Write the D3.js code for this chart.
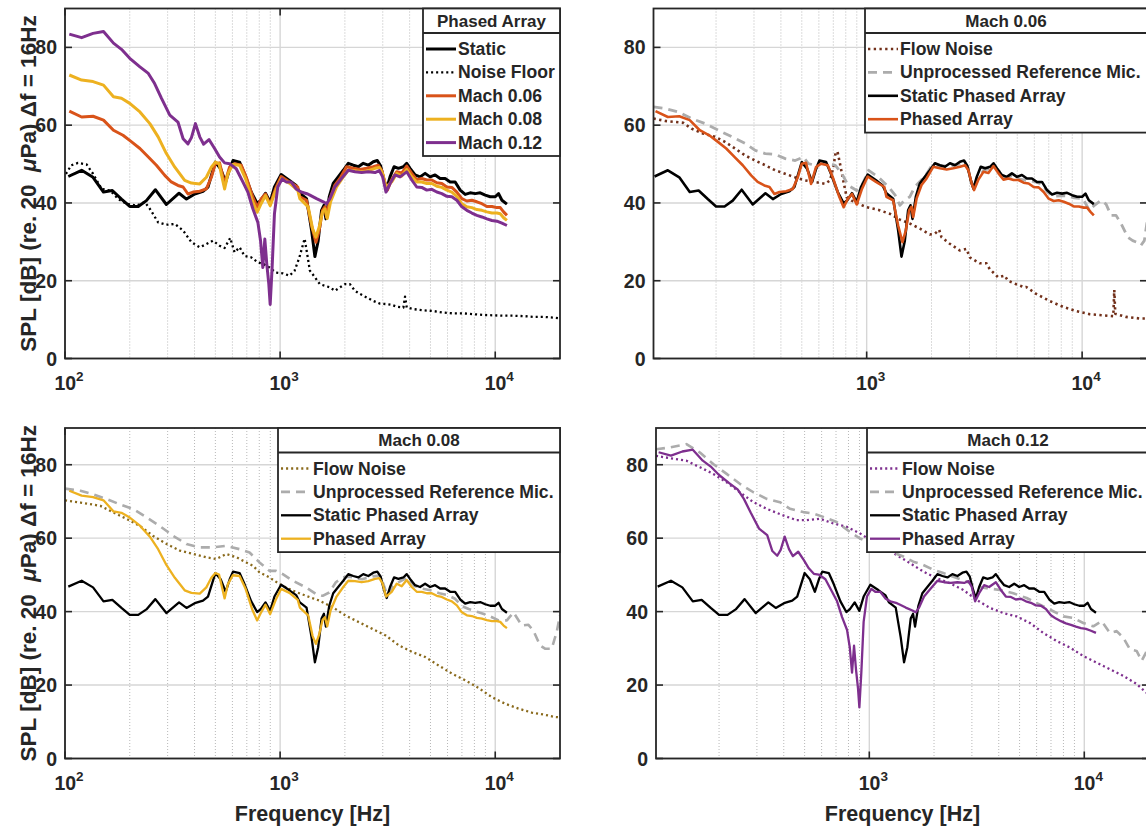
<!DOCTYPE html>
<html>
<head>
<meta charset="utf-8">
<script src="https://cdn.jsdelivr.net/npm/d3@7"></script>
<style>
  body { margin: 0; background: #fff; }
  text { font-family: "Liberation Sans", Arial, sans-serif; font-weight: bold; fill: #262626; }
</style>
</head>
<body>
<svg id="fig" width="1146" height="829"></svg>
<script>
// ---------------- data: [frequency Hz, SPL dB] ----------------
const staticArray = [[103.6,46.8],[119.5,48.4],[135,46.6],[151,42.8],[166,43.2],[183,41.0],[200,39.1],[219,39.1],[239,40.6],[263,43.4],[296,39.6],[339,42.5],[367,41.0],[401,42.3],[438,43.0],[462,44.1],[500,50.5],[529,48.8],[558,45.4],[583,48.8],[604,50.9],[648,50.5],[683,47.5],[734,42.8],[782,39.9],[811,40.6],[855,42.5],[899,40.2],[941,44.1],[1011,47.3],[1105,45.8],[1187,44.5],[1235,42.5],[1327,41.1],[1400,33.0],[1451,26.2],[1503,30.3],[1558,38.1],[1598,39.4],[1632,35.9],[1692,41.6],[1765,45.0],[1862,46.7],[1966,48.4],[2074,50.2],[2188,49.7],[2309,49.3],[2435,50.2],[2570,49.7],[2711,50.6],[2830,50.9],[2934,49.5],[3040,45.9],[3130,43.7],[3243,46.7],[3385,49.3],[3546,48.9],[3741,49.3],[3877,50.2],[4018,48.9],[4240,47.2],[4472,46.7],[4720,47.6],[4980,46.7],[5254,47.2],[5543,46.3],[5850,46.3],[6171,45.4],[6512,45.4],[6871,43.3],[7249,42.2],[7647,42.6],[8069,42.4],[8513,42.6],[8983,42.0],[9478,41.6],[10000,41.6],[10363,42.4],[10741,40.7],[11333,39.7]];

const noiseFloor = [[101,47.5],[107,49.7],[115,50.3],[126,49.9],[135,47.5],[148,43.6],[162,43.2],[177,41.0],[193,39.8],[215,39.3],[235,40.2],[248,38.5],[271,35.0],[296,34.4],[324,34.6],[354,32.9],[387,29.9],[423,28.6],[454,29.4],[487,30.3],[523,29.0],[552,28.4],[586,31.0],[614,27.3],[648,28.6],[683,26.4],[734,26.0],[788,24.7],[837,24.3],[892,23.4],[958,22.1],[1029,21.9],[1105,21.3],[1166,22.5],[1229,26.0],[1300,30.8],[1336,26.9],[1375,22.6],[1451,20.9],[1530,19.1],[1615,18.7],[1704,18.3],[1797,17.4],[1897,18.3],[2001,19.1],[2112,19.1],[2228,17.4],[2350,16.6],[2524,15.7],[2711,14.8],[2913,14.1],[3130,14.0],[3301,13.8],[3483,13.3],[3741,13.1],[3808,15.9],[3877,13.1],[4165,12.7],[4636,12.4],[5161,12.2],[5745,11.8],[6397,11.6],[7120,11.6],[7926,11.4],[8825,11.2],[9823,11.1],[10934,11.0],[12172,11.0],[13552,10.9],[15085,10.7],[16797,10.7],[18698,10.5],[20000,10.3]];

const mach006Array = [[104.7,63.6],[119.5,62.1],[135,62.3],[151,61.3],[168,58.7],[186,57.4],[204,55.7],[223,54.0],[244,51.8],[266,49.7],[291,47.1],[312,45.4],[335,44.5],[354,44.1],[373,42.3],[394,42.8],[423,43.0],[454,43.6],[479,46.6],[500,50.1],[523,50.3],[552,44.9],[582,49.2],[614,50.1],[660,49.7],[696,46.6],[747,41.5],[782,38.9],[816,41.0],[855,42.3],[899,39.6],[951,43.6],[1011,46.8],[1105,45.4],[1208,44.1],[1235,41.6],[1327,40.7],[1400,34.2],[1466,29.9],[1519,32.9],[1575,38.1],[1615,39.0],[1644,36.4],[1704,41.1],[1797,44.6],[1897,46.3],[2037,49.3],[2188,48.9],[2350,48.6],[2524,48.9],[2711,49.3],[2861,49.7],[2966,48.4],[3073,45.0],[3152,43.3],[3301,46.0],[3483,48.0],[3674,47.7],[3877,49.5],[4091,47.6],[4316,46.0],[4554,46.3],[4806,45.9],[5070,45.9],[5350,45.2],[5644,45.0],[5955,44.1],[6283,44.0],[6630,42.8],[6995,41.1],[7380,40.5],[7786,40.7],[8215,40.3],[8667,39.8],[9145,39.1],[9649,39.1],[10180,38.8],[10551,38.8],[10934,37.7],[11333,36.8]];

const mach008Array = [[104.7,72.9],[119.5,71.6],[135,71.2],[151,70.3],[168,67.3],[183,66.9],[200,65.6],[223,63.4],[248,60.4],[271,57.0],[296,52.7],[324,49.2],[360,45.8],[387,45.1],[423,44.9],[454,46.6],[479,49.2],[500,50.5],[520,50.1],[552,43.6],[572,47.5],[603,49.9],[648,49.7],[691,46.2],[742,40.6],[782,37.6],[816,39.8],[855,41.9],[899,39.3],[951,43.0],[1011,46.2],[1105,45.1],[1208,43.2],[1235,41.1],[1350,39.0],[1415,33.4],[1466,31.2],[1519,33.8],[1575,37.7],[1615,38.5],[1656,36.0],[1716,40.3],[1829,44.1],[1966,46.7],[2074,48.4],[2228,48.3],[2393,48.0],[2570,48.3],[2761,48.9],[2892,49.1],[2997,47.6],[3106,44.1],[3301,45.4],[3483,47.6],[3674,46.9],[3877,48.6],[4091,46.7],[4316,45.4],[4554,45.4],[4806,45.0],[5070,45.0],[5350,44.3],[5644,44.0],[5955,43.3],[6283,42.8],[6630,41.7],[6995,39.8],[7380,39.0],[7786,38.8],[8215,38.3],[8667,38.1],[9145,37.7],[9649,37.4],[10180,37.4],[10551,37.2],[10934,36.2],[11333,35.5]];

const mach012Array = [[104.7,83.4],[119.5,82.5],[135,83.6],[151,84.1],[168,81.1],[183,79.5],[200,77.2],[223,75.0],[244,73.3],[261,70.7],[281,66.9],[307,62.6],[335,60.8],[354,56.5],[373,55.2],[387,56.8],[404,60.4],[423,57.0],[441,55.1],[467,56.3],[496,54.0],[523,51.8],[552,50.3],[582,50.1],[625,48.8],[671,45.4],[708,42.8],[747,38.5],[788,35.0],[811,30.3],[831,23.4],[849,30.7],[867,24.3],[886,19.1],[899,13.9],[918,23.4],[941,37.2],[975,44.1],[1022,46.2],[1066,45.4],[1125,45.4],[1187,43.6],[1252,42.8],[1344,42.3],[1375,42.0],[1477,41.1],[1587,40.3],[1644,39.8],[1704,41.1],[1797,44.1],[1931,46.3],[2074,48.4],[2228,48.0],[2393,47.8],[2570,48.0],[2761,47.8],[2892,48.3],[2997,46.7],[3106,42.8],[3243,45.0],[3421,47.2],[3609,46.7],[3877,48.0],[4091,45.9],[4316,44.1],[4554,44.0],[4806,43.3],[5070,43.5],[5350,42.8],[5644,42.4],[5955,41.7],[6283,41.6],[6630,40.7],[6995,39.0],[7380,38.1],[7786,37.4],[8215,36.8],[8667,36.4],[9145,35.9],[9649,35.5],[10180,35.3],[10741,34.8],[11333,34.2]];

const flowNoise006 = [[102.5,61.7],[116,61.1],[141,60.6],[154,59.1],[175,57.8],[198,57.0],[220,55.7],[245,54.0],[273,52.2],[304,50.9],[338,49.7],[376,48.4],[418,47.5],[465,46.6],[518,45.8],[576,45.4],[641,44.9],[676,45.8],[701,49.2],[718,53.1],[733,53.1],[752,50.1],[781,45.4],[808,41.5],[852,40.6],[915,39.8],[1000,38.9],[1136,38.2],[1282,37.2],[1427,35.7],[1587,34.7],[1766,33.4],[1964,31.9],[2072,32.1],[2170,33.1],[2224,31.2],[2431,29.5],[2704,27.8],[2904,28.2],[3010,26.0],[3346,24.5],[3593,24.5],[3724,23.0],[4071,20.9],[4370,21.3],[4528,20.0],[4948,19.1],[5408,18.3],[5504,18.4],[6124,16.6],[7060,14.8],[8137,13.3],[9380,12.2],[10812,11.4],[12467,11.1],[13950,10.9],[14100,17.6],[14250,11.5],[15986,10.7],[18427,10.3],[20000,10.3]];

const refMic006 = [[102.5,64.7],[116,64.3],[134,63.4],[154,61.7],[178,60.4],[205,58.7],[237,57.0],[273,55.3],[304,53.5],[338,52.7],[376,52.5],[419,51.4],[466,50.9],[509,51.8],[536,50.1],[576,49.7],[641,50.5],[714,49.7],[768,47.5],[822,44.5],[899,43.2],[949,44.5],[1021,48.4],[1136,46.6],[1264,44.1],[1356,42.0],[1427,39.4],[1500,40.7],[1587,41.6],[1670,44.1],[1766,45.5],[1900,47.5],[2000,49.5],[2200,49.5],[2450,49.5],[2700,50.0],[2850,50.3],[2950,49.0],[3050,45.5],[3150,43.5],[3300,46.5],[3500,48.5],[3750,48.8],[3900,49.7],[4100,48.3],[4400,46.5],[4750,47.0],[5100,46.2],[5500,45.8],[6000,45.5],[6500,44.8],[6900,42.8],[7400,41.7],[8000,41.8],[8600,41.8],[9200,41.3],[10071,41.1],[10812,38.1],[11405,39.4],[12243,40.7],[12913,39.7],[13620,36.8],[14368,36.8],[15155,34.7],[16272,31.2],[17165,30.3],[17911,29.9],[18757,29.1],[19437,30.3],[20000,35.0]];

const flowNoise008 = [[100,70.3],[118,69.7],[146,68.8],[168,67.0],[194,65.2],[223,63.3],[257,60.6],[297,58.4],[342,56.6],[394,55.7],[454,54.8],[505,54.3],[562,55.7],[626,54.8],[696,53.4],[747,52.5],[802,50.7],[892,49.3],[993,47.5],[1145,45.7],[1319,44.3],[1521,43.0],[1753,41.2],[2020,38.9],[2329,37.1],[2685,35.3],[3096,33.5],[3568,30.8],[4113,29.0],[4741,27.6],[5466,25.3],[6300,23.1],[7262,21.3],[8371,19.2],[9649,16.7],[11122,14.9],[12823,13.6],[14785,12.5],[17037,11.9],[18960,11.3],[20000,11.2]];

const refMic008 = [[100,73.5],[118,72.9],[136,71.9],[157,70.6],[180,69.2],[208,67.9],[240,65.6],[276,63.3],[319,60.6],[367,58.4],[423,57.5],[488,57.5],[562,57.9],[648,57.0],[721,56.1],[802,53.4],[892,51.1],[958,51.1],[1029,50.2],[1145,48.4],[1319,46.6],[1469,44.8],[1576,44.3],[1692,45.2],[1816,48.0],[1950,49.3],[2100,49.5],[2400,48.8],[2700,49.6],[2900,49.8],[3000,48.0],[3150,44.5],[3350,47.0],[3600,48.2],[3900,49.2],[4200,47.0],[4600,46.2],[5000,45.8],[5500,45.0],[6000,44.5],[6500,43.5],[7000,41.5],[7525,40.7],[8371,39.8],[9314,38.9],[10361,37.6],[11325,37.6],[12161,39.8],[13292,36.2],[14269,36.4],[15047,34.8],[16160,30.8],[17037,29.9],[18295,29.9],[19298,34.4],[20000,39.0]];

const flowNoise012 = [[101.8,82.4],[118,81.8],[141,81.1],[163,79.3],[188,77.5],[217,75.2],[250,72.5],[289,69.8],[333,68.0],[398,66.2],[459,64.9],[511,64.9],[590,65.3],[680,64.0],[785,63.1],[905,61.3],[1007,59.5],[1162,57.7],[1340,55.4],[1546,53.2],[1783,50.9],[2057,49.1],[2373,47.7],[2737,45.9],[3157,43.2],[3642,41.0],[4201,39.6],[4846,38.7],[5590,36.9],[6448,34.2],[7437,32.0],[8578,30.2],[9893,27.9],[11414,26.1],[13165,24.3],[15186,22.5],[17516,20.3],[19362,18.0],[20000,17.4]];

const refMic012 = [[101.8,84.2],[118,84.7],[141,85.6],[163,83.3],[188,80.2],[217,77.5],[250,74.8],[289,72.5],[333,70.7],[384,69.8],[428,68.0],[493,67.1],[549,66.7],[611,65.8],[705,64.4],[813,61.7],[905,59.9],[1007,58.8],[1162,57.3],[1300,56.0],[1439,55.0],[1602,53.6],[1783,52.7],[1985,51.4],[2209,50.5],[2459,49.5],[2836,48.2],[3157,46.8],[3513,46.4],[4053,45.9],[4676,45.0],[5394,43.7],[6221,41.9],[7176,40.1],[7985,38.7],[8888,38.3],[9893,36.9],[11013,36.0],[12040,37.4],[13165,34.2],[14140,34.7],[15186,32.9],[16310,29.7],[17516,29.3],[18480,26.6],[19362,28.8],[20000,33.0]];

// ---------------- axis ticks ----------------
const yTicks = [0, 20, 40, 60, 80];
const xDecades = [100, 1000, 10000];
const xMinor = [200,300,400,500,600,700,800,900,2000,3000,4000,5000,6000,7000,8000,9000];

// ---------------- line styles ----------------
const C = {
  black: "#000000", orange: "#D95319", yellow: "#EDB120", purple: "#7E2F8E",
  brown: "#72301a", gold: "#8a6a1c", gray: "#acacac", axis: "#262626"
};
const solid = (color, w) => ({ color, width: w, dash: null });
const dotted = (color, w) => ({ color, width: w, dash: `${w*0.9},${w*1.3}` });
const dashed = (color, w) => ({ color, width: w, dash: "9,6" });

const panels = [
  { x0: 65, x1: 560, y0: 8.5, y1: 358.5, xDomain: [100, 20000], yLabel: true, xLabel: false,
    title: "Phased Array", legend: { x: 423, y: 8.5, w: 137, rows: 5 },
    series: [
      { name: "Static", data: staticArray, style: solid(C.black, 3.0) },
      { name: "Noise Floor", data: noiseFloor, style: dotted(C.black, 2.3) },
      { name: "Mach 0.06", data: mach006Array, style: solid(C.orange, 3.0) },
      { name: "Mach 0.08", data: mach008Array, style: solid(C.yellow, 3.0) },
      { name: "Mach 0.12", data: mach012Array, style: solid(C.purple, 3.0) }
    ] },
  { x0: 653.5, x1: 1147, y0: 8.5, y1: 358.5, xDomain: [102.5, 20000], yLabel: false, xLabel: false,
    title: "Mach 0.06", legend: { x: 865, y: 8.5, w: 282, rows: 4 },
    series: [
      { name: "Flow Noise", data: flowNoise006, style: dotted(C.brown, 2.6) },
      { name: "Unprocessed Reference Mic.", data: refMic006, style: dashed(C.gray, 2.8) },
      { name: "Static Phased Array", data: staticArray, style: solid(C.black, 2.6) },
      { name: "Phased Array", data: mach006Array, style: solid(C.orange, 2.6) }
    ] },
  { x0: 65, x1: 560, y0: 428, y1: 758.5, xDomain: [100, 20000], yLabel: true, xLabel: true,
    title: "Mach 0.08", legend: { x: 278, y: 428, w: 282, rows: 4 },
    series: [
      { name: "Flow Noise", data: flowNoise008, style: dotted(C.gold, 2.3) },
      { name: "Unprocessed Reference Mic.", data: refMic008, style: dashed(C.gray, 2.6) },
      { name: "Static Phased Array", data: staticArray, style: solid(C.black, 2.3) },
      { name: "Phased Array", data: mach008Array, style: solid(C.yellow, 2.3) }
    ] },
  { x0: 656, x1: 1149, y0: 428, y1: 758.5, xDomain: [101.8, 20000], yLabel: false, xLabel: true,
    title: "Mach 0.12", legend: { x: 867, y: 428, w: 282, rows: 4 },
    series: [
      { name: "Flow Noise", data: flowNoise012, style: dotted(C.purple, 2.3) },
      { name: "Unprocessed Reference Mic.", data: refMic012, style: dashed(C.gray, 2.6) },
      { name: "Static Phased Array", data: staticArray, style: solid(C.black, 2.3) },
      { name: "Phased Array", data: mach012Array, style: solid(C.purple, 2.3) }
    ] }
];

const svg = d3.select("#fig");
svg.append("rect").attr("width", 1146).attr("height", 829).attr("fill", "#fff");

panels.forEach((p, i) => {
  const x = d3.scaleLog().domain(p.xDomain).range([p.x0, p.x1]);
  const y = d3.scaleLinear().domain([0, 90]).range([p.y1, p.y0]);
  const g = svg.append("g");

  const clipId = "clip" + i;
  g.append("clipPath").attr("id", clipId)
    .append("rect").attr("x", p.x0).attr("y", p.y0)
    .attr("width", p.x1 - p.x0).attr("height", p.y1 - p.y0);

  // minor vertical grid (dotted)
  const inDom = v => v >= p.xDomain[0] && v <= p.xDomain[1];
  g.selectAll(".minor").data(xMinor.filter(inDom)).join("line")
    .attr("x1", d => x(d)).attr("x2", d => x(d))
    .attr("y1", p.y0).attr("y2", p.y1)
    .attr("stroke", "#b8b8b8").attr("stroke-width", 1)
    .attr("stroke-dasharray", "1,2");
  // major grid
  g.selectAll(".majx").data(xDecades.filter(inDom)).join("line")
    .attr("x1", d => x(d)).attr("x2", d => x(d))
    .attr("y1", p.y0).attr("y2", p.y1)
    .attr("stroke", "#d6d6d6").attr("stroke-width", 1.4);
  g.selectAll(".majy").data(yTicks).join("line")
    .attr("x1", p.x0).attr("x2", p.x1)
    .attr("y1", d => y(d)).attr("y2", d => y(d))
    .attr("stroke", "#d6d6d6").attr("stroke-width", 1.4);

  // data lines
  const line = d3.line().x(d => x(d[0])).y(d => y(d[1]));
  const lines = g.append("g").attr("clip-path", `url(#${clipId})`);
  p.series.forEach(s => {
    lines.append("path").datum(s.data)
      .attr("d", line)
      .attr("fill", "none")
      .attr("stroke", s.style.color)
      .attr("stroke-width", s.style.width)
      .attr("stroke-linejoin", "round")
      .attr("stroke-dasharray", s.style.dash);
  });

  // axes box and inward ticks
  const tl = 7;
  g.append("rect").attr("x", p.x0).attr("y", p.y0)
    .attr("width", p.x1 - p.x0).attr("height", p.y1 - p.y0)
    .attr("fill", "none").attr("stroke", C.axis).attr("stroke-width", 1.8);
  yTicks.forEach(t => {
    g.append("line").attr("x1", p.x0).attr("x2", p.x0 + tl).attr("y1", y(t)).attr("y2", y(t))
      .attr("stroke", C.axis).attr("stroke-width", 1.6);
    g.append("line").attr("x1", p.x1).attr("x2", p.x1 - tl).attr("y1", y(t)).attr("y2", y(t))
      .attr("stroke", C.axis).attr("stroke-width", 1.6);
  });
  xDecades.filter(inDom).forEach(t => {
    g.append("line").attr("x1", x(t)).attr("x2", x(t)).attr("y1", p.y1).attr("y2", p.y1 - tl)
      .attr("stroke", C.axis).attr("stroke-width", 1.6);
    g.append("line").attr("x1", x(t)).attr("x2", x(t)).attr("y1", p.y0).attr("y2", p.y0 + tl)
      .attr("stroke", C.axis).attr("stroke-width", 1.6);
  });

  // tick labels
  g.selectAll(".yt").data(yTicks).join("text")
    .attr("x", p.x0 - 8).attr("y", d => y(d) + 7)
    .attr("text-anchor", "end").attr("font-size", 19.5)
    .text(d => d);
  g.selectAll(".xt").data(xDecades.filter(inDom)).join("text")
    .attr("x", d => x(d) + 4).attr("y", p.y1 + 31)
    .attr("text-anchor", "middle").attr("font-size", 19.5)
    .each(function(d) {
      const t = d3.select(this);
      t.append("tspan").text("10");
      t.append("tspan").attr("dy", -9).attr("font-size", 13.5).text(Math.round(Math.log10(d)));
    });

  // axis titles
  if (p.yLabel) {
    const lab = g.append("text")
      .attr("transform", `translate(28,${(p.y0 + p.y1) / 2}) rotate(-90)`)
      .attr("text-anchor", "middle").attr("dominant-baseline", "central")
      .attr("font-size", 22.5).attr("xml:space", "preserve");
    lab.append("tspan").text("SPL [dB] (re. 20\u00a0 ");
    lab.append("tspan").attr("font-style", "italic").text("\u03bc");
    lab.append("tspan").text("Pa) \u0394f = 16Hz");
  }
  if (p.xLabel) {
    g.append("text").attr("x", (p.x0 + p.x1) / 2).attr("y", p.y1 + 62)
      .attr("text-anchor", "middle").attr("font-size", 21.5)
      .text("Frequency [Hz]");
  }

  // legend
  const L = p.legend, titleH = 24.5, rowH = 23.4;
  const lh = titleH + 6 + rowH * L.rows;
  const lg = g.append("g");
  lg.append("rect").attr("x", L.x).attr("y", L.y).attr("width", L.w).attr("height", lh)
    .attr("fill", "#fff").attr("stroke", C.axis).attr("stroke-width", 1.8);
  lg.append("line").attr("x1", L.x).attr("x2", L.x + L.w)
    .attr("y1", L.y + titleH).attr("y2", L.y + titleH)
    .attr("stroke", C.axis).attr("stroke-width", 1.8);
  lg.append("text").attr("x", L.x + L.w / 2).attr("y", L.y + titleH / 2 + 6)
    .attr("text-anchor", "middle").attr("font-size", 17).text(p.title);
  p.series.forEach((s, k) => {
    const cy = L.y + titleH + 16 + k * rowH;
    lg.append("line").attr("x1", L.x + 3).attr("x2", L.x + 33)
      .attr("y1", cy).attr("y2", cy)
      .attr("stroke", s.style.color).attr("stroke-width", s.style.width)
      .attr("stroke-dasharray", s.style.dash);
    lg.append("text").attr("x", L.x + 35).attr("y", cy + 6)
      .attr("font-size", 17.6).text(s.name);
  });
});
</script>
</body>
</html>
